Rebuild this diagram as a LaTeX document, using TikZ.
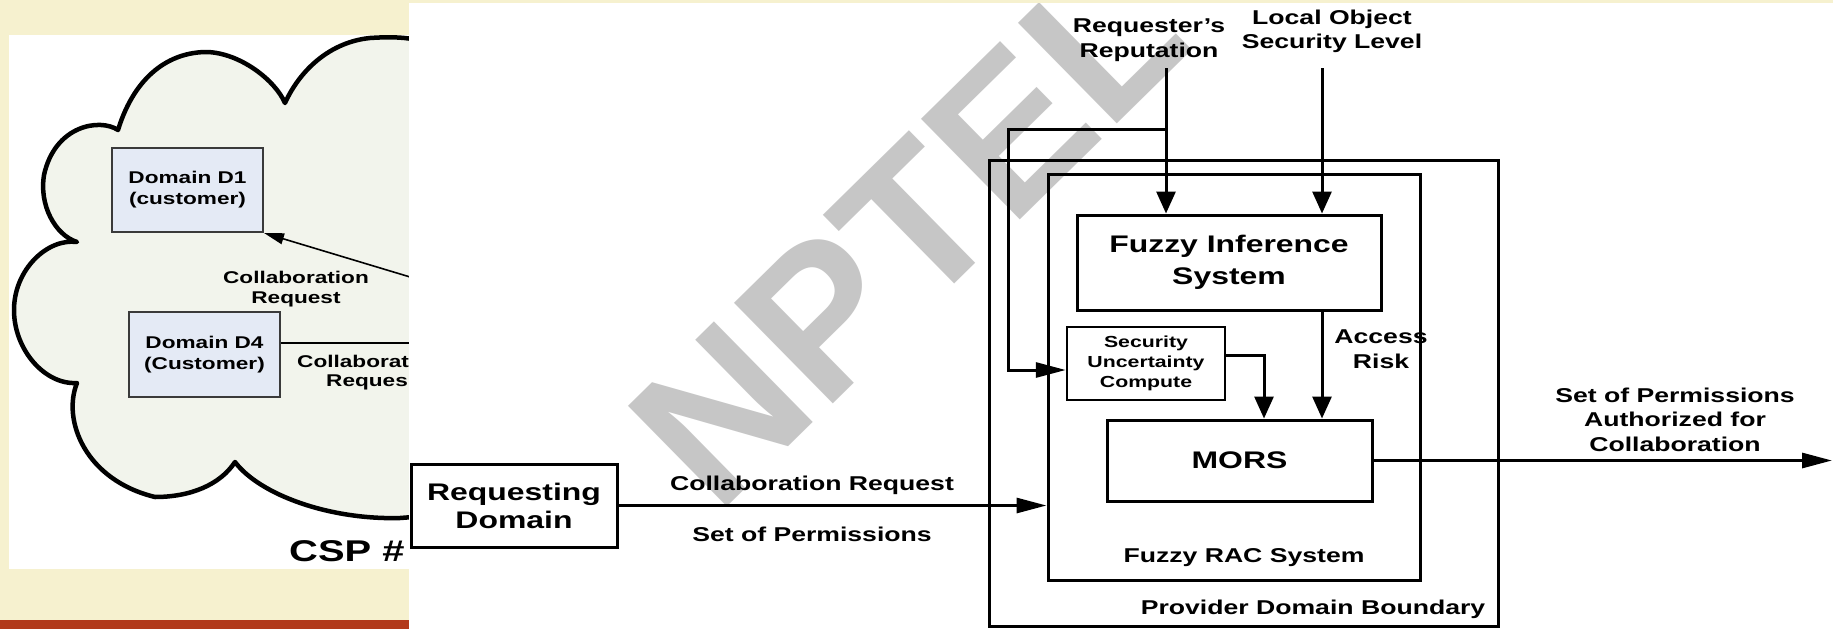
\documentclass[tikz,border=0pt]{standalone}
\usepackage{fontspec}
\setmainfont{Liberation Sans}[FakeStretch=1.33]
\newfontfamily\wmfont{Liberation Sans}
\usetikzlibrary{arrows.meta}
\definecolor{cream}{HTML}{F6F1CF}
\definecolor{barred}{HTML}{B23A1B}
\definecolor{cloudfill}{HTML}{F2F4EC}
\definecolor{dfill}{HTML}{E4EAF5}
\definecolor{dline}{HTML}{3A3A3A}
\definecolor{wmgray}{HTML}{C6C6C6}
\begin{document}
\begin{tikzpicture}[x=1pt,y=-1pt,
  lbl/.style={font=\bfseries\fontsize{20}{24.5}\selectfont, align=center, inner sep=0pt},
  bigbox/.style={draw, line width=3pt, inner sep=0pt, align=center},
  dbox/.style={draw=dline, fill=dfill, line width=2pt, inner sep=0pt, align=center,
    font=\bfseries\fontsize{17}{21}\selectfont},
  clbl/.style={font=\bfseries\fontsize{17}{20}\selectfont, align=center, inner sep=0pt},
  vArr/.style={line width=3pt, -{Triangle[length=22pt,width=19pt]}},
  hArr/.style={line width=3pt, -{Triangle[length=30pt,width=15pt]}},
  cArr/.style={line width=1.6pt, -{Triangle[length=20pt,width=11pt]}}]
\useasboundingbox (0,0) rectangle (1833,629);
% slide background
\fill[cream] (0,0) rectangle (1833,629);
\fill[barred] (0,620) rectangle (409,629);
\fill[white] (9,35) rectangle (409,569);
% cloud picture (left, partly covered)
\begin{scope}
\clip (9,35) rectangle (409,569);
\filldraw[fill=cloudfill, line width=4.5pt, line join=round]
  (440,48) .. controls (420,38) and (400,36) .. (370,38)
  .. controls (330,42) and (300,70) .. (285,103)
  .. controls (275,80) and (240,53) .. (207,52)
  .. controls (170,52) and (135,75) .. (118,130)
  .. controls (100,118) and (55,125) .. (44,175)
  .. controls (39,205) and (55,235) .. (77,242)
  .. controls (47,238) and (14,270) .. (14,310)
  .. controls (14,350) and (45,385) .. (77,383)
  .. controls (62,420) and (85,480) .. (155,497)
  .. controls (190,497) and (220,485) .. (235,462)
  .. controls (260,495) and (330,520) .. (400,518)
  -- (440,515) -- cycle;
\node[dbox, minimum width=151pt, minimum height=84pt] (d1) at (187.5,190) {Domain D1\\(customer)};
\node[dbox, minimum width=151pt, minimum height=85pt] (d4) at (204.5,354.5) {Domain D4\\(Customer)};
\coordinate (cl1) at (440,286);
\coordinate (cl2) at (440,343);
\draw[cArr] (cl1) -- (d1.south east);
\draw[line width=1.6pt] (cl2 -| d4.east) -- (cl2);
\node[clbl] (clr1) at (296,289) {Collaboration\\Request};
\node[clbl, anchor=west] (clr2a) at (297,361) {Collaborat};
\node[clbl, anchor=west] (clr2b) at (326,382) {Reques};
\node[font=\bfseries\fontsize{30}{32}\selectfont, inner sep=0pt, anchor=west] (csp) at (289,551) {CSP \#};
\end{scope}
% right white panel
\fill[white] (409,3) rectangle (1833,629);
% watermark
\begin{scope}
\clip (409,3) rectangle (1833,629);
\node[font=\wmfont\bfseries\fontsize{205}{205}\selectfont, text=wmgray, rotate=44.5, inner sep=0pt] (wm) at (908,231) {NPTEL};
\end{scope}
% boxes
\node[bigbox, minimum width=509pt, minimum height=466pt] (outer) at (1243.5,393) {};
\node[bigbox, minimum width=372pt, minimum height=406pt] (rac) at (1234,377) {};
\node[bigbox, minimum width=304pt, minimum height=95pt, font=\bfseries\fontsize{24}{32}\selectfont] (fis) at (1229,262.5) {Fuzzy Inference\\System};
\node[bigbox, line width=2.5pt, minimum width=158pt, minimum height=73pt, font=\bfseries\fontsize{16}{20}\selectfont] (suc) at (1146,363.5) {Security\\Uncertainty\\Compute};
\node[bigbox, minimum width=265pt, minimum height=81pt, font=\bfseries\fontsize{24}{28}\selectfont] (mors) at (1239.5,460.5) {MORS};
\node[bigbox, minimum width=206pt, minimum height=83pt, font=\bfseries\fontsize{24}{28}\selectfont] (req) at (514,505.5) {Requesting\\Domain};
% labels
\node[lbl] (racl) at (1244,558) {Fuzzy RAC System};
\node[lbl] (outl) at (1313,609) {Provider Domain Boundary};
\node[lbl] (reqrep) at (1149,40) {Requester’s\\Reputation};
\node[lbl] (locobj) at (1332,31.5) {Local Object\\Security Level};
\node[lbl] (accr) at (1381,349) {Access\\Risk};
\node[lbl] (perm) at (1675,419.5) {Set of Permissions\\Authorized for\\Collaboration};
\node[lbl] (creq) at (812,485) {Collaboration Request};
\node[lbl] (sperm) at (812,534) {Set of Permissions};
% connectors
\coordinate (rr) at (1166,68);
\coordinate (br) at (1166,129);
\coordinate (fb1) at (1008,129);
\coordinate (fb2) at (1008,370);
\coordinate (lo) at (1322,68);
\coordinate (s1) at (1225,355);
\coordinate (s2) at (1264,355);
\coordinate (outend) at (1832,460.5);
\draw[vArr] (rr) -- (rr |- fis.north);
\draw[hArr] (br) -- (fb1) -- (fb2) -- (fb2 -| suc.west);
\draw[vArr] (lo) -- (lo |- fis.north);
\draw[vArr] (fis.south -| lo) -- (mors.north -| lo);
\draw[vArr] (s1) -- (s2) -- (s2 |- mors.north);
\draw[hArr] (mors.east) -- (outend);
\draw[hArr] (req.east) -- (req.east -| rac.west);
\end{tikzpicture}
\end{document}
